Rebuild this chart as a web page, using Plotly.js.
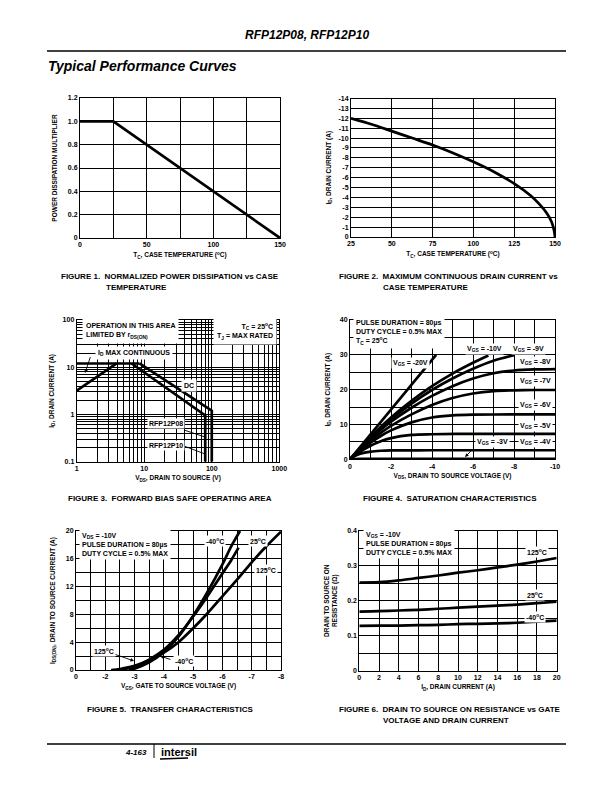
<!DOCTYPE html>
<html><head><meta charset="utf-8">
<script src="https://cdn.plot.ly/plotly-3.0.1.min.js"></script>
<style>html,body{margin:0;padding:0;background:#fff}</style>
</head><body><div id="chart" style="width:612px;height:792px"></div>
<script>
// ---------- DATA ----------
// Figure 1: normalized power dissipation vs case temperature
const fig1_tc = [0, 25, 150];
const fig1_mult = [1.0, 1.0, 0.0];
// Figure 2: max continuous drain current vs case temperature
const fig2_tc = [25, 37.5, 50, 62.5, 75, 87.5, 100, 112.5, 125, 135, 140, 145, 148, 149.5, 150];
const fig2_id = [-12, -11.4, -10.7, -10.0, -9.3, -8.5, -7.6, -6.6, -5.4, -4.2, -3.4, -2.4, -1.5, -0.6, 0];
// Figure 3: forward bias safe operating area
const fig3_rds_vds = [1, 3.9];
const fig3_rds_id = [3.2, 12];
const fig3_idmax_vds = [1, 8.5];
const fig3_idmax_id = [12, 12];
const fig3_p10_vds = [8.5, 100, 100];
const fig3_p10_id = [12, 1.2, 0.1];
const fig3_p08_vds = [6.5, 80, 80];
const fig3_p08_id = [12, 0.95, 0.1];
// Figure 4: saturation characteristics
const fig4_vgs20_vds = [0, -1, -2, -3, -4, -4.2];
const fig4_vgs20_id = [0, 7.1, 14.2, 21.3, 28.5, 30];
const fig4_vgs10_vds = [0, -0.5, -1, -1.5, -2, -3, -4, -5, -6, -6.75];
const fig4_vgs10_id = [0, 3.3, 6.4, 9.3, 12, 16.8, 21, 24.6, 27.7, 29.8];
const fig4_vgs9_vds = [0, -0.5, -1, -1.5, -2, -3, -4, -5, -6, -7, -8];
const fig4_vgs9_id = [0, 3.2, 6.2, 9, 11.5, 16, 19.9, 23.2, 26, 28.3, 29.9];
const fig4_vgs8_vds = [0, -0.5, -1, -1.5, -2, -3, -4, -5, -6, -7, -8, -9, -10];
const fig4_vgs8_id = [0, 3.1, 5.9, 8.5, 10.8, 14.8, 18.2, 21, 23.2, 24.7, 25.5, 25.8, 25.9];
const fig4_vgs7_vds = [0, -0.5, -1, -1.5, -2, -3, -4, -5, -6, -7, -8, -9, -10];
const fig4_vgs7_id = [0, 2.9, 5.4, 7.6, 9.6, 12.9, 15.6, 17.6, 18.9, 19.6, 19.8, 19.9, 19.9];
const fig4_vgs6_vds = [0, -0.5, -1, -1.5, -2, -3, -4, -5, -6, -8, -10];
const fig4_vgs6_id = [0, 2.6, 4.8, 6.7, 8.3, 10.6, 12, 12.6, 12.8, 12.9, 12.9];
const fig4_vgs5_vds = [0, -0.5, -1, -1.5, -2, -3, -4, -6, -10];
const fig4_vgs5_id = [0, 2.2, 3.9, 5.2, 6.1, 7, 7.2, 7.3, 7.3];
const fig4_vgs4_vds = [0, -0.25, -0.5, -1, -1.5, -2, -4, -10];
const fig4_vgs4_id = [0, 1, 1.6, 2.2, 2.45, 2.55, 2.6, 2.6];
const fig4_vgs3_vds = [0, -0.5, -10];
const fig4_vgs3_id = [0, 0.1, 0.15];
// Figure 5: transfer characteristics
const fig5_m40_vgs = [-2.8, -3, -3.5, -4, -4.5, -5, -5.5, -6, -6.3, -6.6];
const fig5_m40_id = [0, 0.2, 1.1, 2.6, 4.8, 7.8, 11.3, 15.2, 17.8, 20];
const fig5_25_vgs = [-2.5, -3, -3.5, -4, -4.5, -5, -5.5, -6, -6.3, -6.55];
const fig5_25_id = [0, 0.5, 1.5, 2.9, 5.0, 7.7, 10.7, 13.9, 15.8, 17.6];
const fig5_125_vgs = [-2.2, -2.5, -3, -3.5, -4, -4.5, -5, -5.5, -6, -6.5, -7, -7.5, -8];
const fig5_125_id = [0, 0.15, 0.6, 1.4, 2.5, 4.0, 6.0, 8.2, 10.6, 13.0, 15.5, 17.8, 19.9];
// Figure 6: on resistance vs drain current
const fig6_id = [0, 2, 4, 6, 8, 10, 12, 14, 16, 18, 20];
const fig6_r125 = [0.252, 0.253, 0.258, 0.265, 0.272, 0.280, 0.287, 0.295, 0.303, 0.312, 0.322];
const fig6_r25 = [0.169, 0.170, 0.172, 0.174, 0.177, 0.180, 0.183, 0.186, 0.189, 0.193, 0.197];
const fig6_rm40 = [0.128, 0.129, 0.129, 0.130, 0.131, 0.133, 0.134, 0.135, 0.137, 0.140, 0.143];

// tick labels
const fig1_xticks = [0, 50, 100, 150];
const fig1_yticks = [0, 0.2, 0.4, 0.6, 0.8, 1.0, 1.2];
const fig1_ytext = ['0', '0.2', '0.4', '0.6', '0.8', '1.0', '1.2'];
const fig2_xticks = [25, 50, 75, 100, 125, 150];
const fig2_yticks = [0, -1, -2, -3, -4, -5, -6, -7, -8, -9, -10, -11, -12, -13, -14];
const fig2_ytext = ['0', '-1', '-2', '-3', '-4', '-5', '-6', '-7', '-8', '-9', '-10', '-11', '-12', '-13', '-14'];
const fig3_xticks = [1, 10, 100, 1000];
const fig3_xtext = ['1', '10', '100', '1000'];
const fig3_yticks = [0.1, 1, 10, 100];
const fig3_ytext = ['0.1', '1', '10', '100'];
const fig4_xticks = [0, -2, -4, -6, -8, -10];
const fig4_xtext = ['0', '-2', '-4', '-6', '-8', '-10'];
const fig4_yticks = [0, 10, 20, 30, 40];
const fig5_xticks = [-1, -2, -3, -4, -5, -6, -7, -8];
const fig5_xtext = ['0', '-2', '-3', '-4', '-5', '-6', '-7', '-8'];
const fig5_yticks = [0, 4, 8, 12, 16, 20];
const fig6_xticks = [0, 2, 4, 6, 8, 10, 12, 14, 16, 18, 20];
const fig6_yticks = [0, 0.1, 0.2, 0.3, 0.4];

// ---------- HELPERS ----------
const W = 612, H = 792;
const PX = x => x / W, PY = y => 1 - y / H;
const FONT = "'Liberation Sans Narrow', 'Arial Narrow', 'Liberation Sans', Arial, sans-serif";
const BOLD = (s, c) => ({family: FONT, size: s, color: c || '#000', weight: 'bold'});

function logMinor(d0, d1) {
  const out = [];
  for (let d = d0; d < d1; d++) for (let k = 2; k <= 9; k++) out.push(k * Math.pow(10, d));
  return out;
}

function axis(dom, anchor, extra) {
  return Object.assign({
    domain: dom, anchor: anchor, showline: true, mirror: true, linecolor: '#000', linewidth: 1,
    showgrid: true, gridcolor: '#000', gridwidth: 1, zeroline: false, ticks: '',
    tickfont: BOLD(7), fixedrange: true, layer: 'below traces'
  }, extra);
}
function minorLin(t0, dt) {
  return {tickmode: 'linear', tick0: t0, dtick: dt, showgrid: true, gridcolor: '#000', gridwidth: 1, ticks: ''};
}

function line(x, y, xa, ya, shape) {
  return {x: x, y: y, xaxis: xa, yaxis: ya, mode: 'lines', type: 'scatter',
    line: {color: '#000', width: 2.7, shape: shape || 'linear', smoothing: 0.8}, hoverinfo: 'skip', showlegend: false};
}

function txt(text, x, y, o) {
  o = o || {};
  return {
    text: text, x: PX(x), y: PY(y), xref: 'paper', yref: 'paper', showarrow: false,
    xanchor: o.xanchor || 'center', yanchor: o.yanchor || 'middle', align: o.align || 'left',
    font: o.font || BOLD(o.size || 7), bgcolor: o.bg || 'rgba(0,0,0,0)', borderpad: o.pad === undefined ? 1 : o.pad
  };
}
function arrow(x0, y0, x1, y1, head) {
  // tail (x0,y0) -> tip (x1,y1), page px
  return {text: ' ', x: PX(x1), y: PY(y1), xref: 'paper', yref: 'paper', showarrow: true,
    ax: x0 - x1, ay: y0 - y1, arrowhead: head ? 2 : 0, arrowsize: 0.8, arrowwidth: 0.9, arrowcolor: '#000',
    standoff: 0, startstandoff: 0, font: BOLD(1)};
}
function seg(x0, y0, x1, y1, w) {
  return {type: 'line', xref: 'paper', yref: 'paper', x0: PX(x0), y0: PY(y0), x1: PX(x1), y1: PY(y1),
    line: {color: '#000', width: w || 1}};
}

// ---------- TRACES ----------
const traces = [
  line(fig1_tc, fig1_mult, 'x', 'y'),
  line(fig2_tc, fig2_id, 'x2', 'y2', 'spline'),
  line(fig3_rds_vds, fig3_rds_id, 'x3', 'y3'),
  line(fig3_idmax_vds, fig3_idmax_id, 'x3', 'y3'),
  line(fig3_p10_vds, fig3_p10_id, 'x3', 'y3'),
  line(fig3_p08_vds, fig3_p08_id, 'x3', 'y3'),
  line(fig4_vgs20_vds, fig4_vgs20_id, 'x4', 'y4'),
  line(fig4_vgs10_vds, fig4_vgs10_id, 'x4', 'y4', 'spline'),
  line(fig4_vgs9_vds, fig4_vgs9_id, 'x4', 'y4', 'spline'),
  line(fig4_vgs8_vds, fig4_vgs8_id, 'x4', 'y4', 'spline'),
  line(fig4_vgs7_vds, fig4_vgs7_id, 'x4', 'y4', 'spline'),
  line(fig4_vgs6_vds, fig4_vgs6_id, 'x4', 'y4', 'spline'),
  line(fig4_vgs5_vds, fig4_vgs5_id, 'x4', 'y4', 'spline'),
  line(fig4_vgs4_vds, fig4_vgs4_id, 'x4', 'y4', 'spline'),
  line(fig4_vgs3_vds, fig4_vgs3_id, 'x4', 'y4'),
  line(fig5_m40_vgs, fig5_m40_id, 'x5', 'y5', 'spline'),
  line(fig5_25_vgs, fig5_25_id, 'x5', 'y5', 'spline'),
  line(fig5_125_vgs, fig5_125_id, 'x5', 'y5', 'spline'),
  line(fig6_id, fig6_r125, 'x6', 'y6', 'spline'),
  line(fig6_id, fig6_r25, 'x6', 'y6', 'spline'),
  line(fig6_id, fig6_rm40, 'x6', 'y6', 'spline')
];

// ---------- LAYOUT ----------
const TF = BOLD(6.5);
const layout = {
  width: W, height: H, margin: {l: 0, r: 0, t: 0, b: 0},
  paper_bgcolor: '#fff', plot_bgcolor: '#fff', showlegend: false,
  font: BOLD(7),
  // Fig 1
  xaxis: axis([80 / W, 280 / W], 'y', {range: [0, 150], tickmode: 'array', tickvals: fig1_xticks,
    minor: minorLin(0, 25),
    title: {text: 'T<sub>C</sub>, CASE TEMPERATURE (<sup>o</sup>C)', font: TF, standoff: 5}}),
  yaxis: axis([1 - 238 / H, 1 - 98 / H], 'x', {range: [0, 1.2], tickmode: 'array', tickvals: fig1_yticks, ticktext: fig1_ytext,
    title: {text: 'POWER DISSIPATION MULTIPLIER', font: TF, standoff: 9}}),
  // Fig 2
  xaxis2: axis([351 / W, 555 / W], 'y2', {range: [25, 150], tickmode: 'array', tickvals: fig2_xticks,
    title: {text: 'T<sub>C</sub>, CASE TEMPERATURE (<sup>o</sup>C)', font: TF, standoff: 5}}),
  yaxis2: axis([1 - 237 / H, 1 - 98.5 / H], 'x2', {range: [0, -14], tickmode: 'array', tickvals: fig2_yticks, ticktext: fig2_ytext,
    title: {text: 'I<sub>D</sub>, DRAIN CURRENT (A)', font: TF, standoff: 6}}),
  // Fig 3
  xaxis3: axis([76.7 / W, 279.3 / W], 'y3', {type: 'log', range: [0, 3], tickmode: 'array', tickvals: fig3_xticks, ticktext: fig3_xtext,
    minor: {tickmode: 'array', tickvals: logMinor(0, 3), showgrid: true, gridcolor: '#000', gridwidth: 1, ticks: ''},
    title: {text: 'V<sub>DS</sub>, DRAIN TO SOURCE (V)', font: TF, standoff: 4}}),
  yaxis3: axis([1 - 461.7 / H, 1 - 320 / H], 'x3', {type: 'log', range: [-1, 2], tickmode: 'array', tickvals: fig3_yticks, ticktext: fig3_ytext,
    minor: {tickmode: 'array', tickvals: logMinor(-1, 2), showgrid: true, gridcolor: '#000', gridwidth: 1, ticks: ''},
    title: {text: 'I<sub>D</sub>, DRAIN CURRENT (A)', font: TF, standoff: 7}}),
  // Fig 4
  xaxis4: axis([350 / W, 555 / W], 'y4', {range: [0, -10], tickmode: 'array', tickvals: fig4_xticks, ticktext: fig4_xtext,
    minor: minorLin(0, 1),
    title: {text: 'V<sub>DS</sub>, DRAIN TO SOURCE VOLTAGE (V)', font: TF, standoff: 4}}),
  yaxis4: axis([1 - 459.3 / H, 1 - 320 / H], 'x4', {range: [0, 40], tickmode: 'array', tickvals: fig4_yticks,
    minor: minorLin(0, 5),
    title: {text: 'I<sub>D</sub>, DRAIN CURRENT (A)', font: TF, standoff: 8}}),
  // Fig 5
  xaxis5: axis([76 / W, 281 / W], 'y5', {range: [-1, -8], tickmode: 'array', tickvals: fig5_xticks, ticktext: fig5_xtext,
    minor: minorLin(-1, 0.5),
    title: {text: 'V<sub>GS</sub>, GATE TO SOURCE VOLTAGE (V)', font: TF, standoff: 4}}),
  yaxis5: axis([1 - 670 / H, 1 - 531 / H], 'x5', {range: [0, 20], tickmode: 'array', tickvals: fig5_yticks,
    minor: minorLin(0, 2),
    title: {text: 'I<sub>DS(ON)</sub>, DRAIN TO SOURCE CURRENT (A)', font: TF, standoff: 9}}),
  // Fig 6
  xaxis6: axis([359.3 / W, 556.7 / W], 'y6', {range: [0, 20], tickmode: 'array', tickvals: fig6_xticks,
    title: {text: 'I<sub>D</sub>, DRAIN CURRENT (A)', font: TF, standoff: 4}}),
  yaxis6: axis([1 - 670.7 / H, 1 - 530.7 / H], 'x6', {range: [0, 0.4], tickmode: 'array', tickvals: fig6_yticks,
    minor: minorLin(0, 0.05),
    title: {text: 'DRAIN TO SOURCE ON<br>RESISTANCE (Ω)', font: TF, standoff: 8}}),
  shapes: [
    seg(47, 51, 566, 51, 1.3),
    seg(47, 744, 566, 744, 1.3),
    seg(154, 744, 154, 758, 1),
    // leader lines, fig 3
    seg(184, 430, 205, 437, 0.9),
    seg(184, 446, 205, 454, 0.9),
    // intersil logo swoosh
    seg(160, 759, 188, 758, 1.4)
  ],
  annotations: [
    // page header
    txt('RFP12P08, RFP12P10', 307, 35, {font: {family: "'Liberation Sans', Arial, sans-serif", size: 12, color: '#000', style: 'italic', weight: 'bold'}}),
    txt('Typical Performance Curves', 46, 66, {xanchor: 'left', font: {family: "'Liberation Sans', Arial, sans-serif", size: 14, color: '#000', style: 'italic', weight: 'bold'}}),
    // captions
    txt('FIGURE 1.  NORMALIZED POWER DISSIPATION vs CASE', 59, 276, {xanchor: 'left', size: 8}),
    txt('TEMPERATURE', 104, 287, {xanchor: 'left', size: 8}),
    txt('FIGURE 2.  MAXIMUM CONTINUOUS DRAIN CURRENT vs', 337, 276, {xanchor: 'left', size: 8}),
    txt('CASE TEMPERATURE', 381, 287, {xanchor: 'left', size: 8}),
    txt('FIGURE 3.  FORWARD BIAS SAFE OPERATING AREA', 66, 498, {xanchor: 'left', size: 8}),
    txt('FIGURE 4.  SATURATION CHARACTERISTICS', 361, 498, {xanchor: 'left', size: 8}),
    txt('FIGURE 5.  TRANSFER CHARACTERISTICS', 85, 709, {xanchor: 'left', size: 8}),
    txt('FIGURE 6.  DRAIN TO SOURCE ON RESISTANCE vs GATE', 337, 709, {xanchor: 'left', size: 8}),
    txt('VOLTAGE AND DRAIN CURRENT', 381, 720, {xanchor: 'left', size: 8}),
    // footer
    txt('4-163', 149, 752, {xanchor: 'right', font: {family: "'Liberation Sans', Arial, sans-serif", size: 8, color: '#000', style: 'italic'}}),
    txt('intersil', 159, 752, {xanchor: 'left', font: {family: "'Liberation Sans', Arial, sans-serif", size: 11, color: '#000', weight: 'bold'}}),
    // fig 3 labels
    txt('OPERATION IN THIS AREA<br>LIMITED BY r<sub>DS(ON)</sub>', 82, 331, {xanchor: 'left', bg: '#fff', pad: 3}),
    txt('T<sub>C</sub> = 25<sup>o</sup>C<br>T<sub>J</sub> = MAX RATED', 277, 331, {xanchor: 'right', align: 'right', bg: '#fff', pad: 3}),
    txt('I<sub>D</sub> MAX CONTINUOUS', 95, 353, {xanchor: 'left', bg: '#fff', pad: 2}),
    arrow(91, 355, 85, 373, true),
    txt('DC', 189, 385, {bg: '#fff', pad: 2}),
    txt('RFP12P08', 166, 423, {bg: '#fff', pad: 1}),
    txt('RFP12P10', 166, 445, {bg: '#fff', pad: 1}),
    // fig 4 labels
    txt('PULSE DURATION = 80µs<br>DUTY CYCLE = 0.5% MAX<br>T<sub>C</sub> = 25<sup>o</sup>C', 353, 333, {xanchor: 'left', bg: '#fff', pad: 2}),
    txt('V<sub>GS</sub> = -20V', 411, 363, {bg: '#fff', pad: 1}),
    txt('V<sub>GS</sub> = -10V', 484, 349, {bg: '#fff', pad: 1}),
    txt('V<sub>GS</sub> = -9V', 528, 349, {bg: '#fff', pad: 1}),
    txt('V<sub>GS</sub> = -8V', 535, 362, {bg: '#fff', pad: 1}),
    txt('V<sub>GS</sub> = -7V', 535, 381, {bg: '#fff', pad: 1}),
    txt('V<sub>GS</sub> = -6V', 535, 405, {bg: '#fff', pad: 1}),
    txt('V<sub>GS</sub> = -5V', 535, 426, {bg: '#fff', pad: 1}),
    txt('V<sub>GS</sub> = -4V', 535, 442, {bg: '#fff', pad: 1}),
    txt('V<sub>GS</sub> = -3V', 492, 442, {bg: '#fff', pad: 1}),
    arrow(475, 447, 465, 457, true),
    // fig 5 labels
    txt('V<sub>DS</sub> = -10V<br>PULSE DURATION = 80µs<br>DUTY CYCLE = 0.5% MAX', 79, 544, {xanchor: 'left', bg: '#fff', pad: 2}),
    txt('-40<sup>o</sup>C', 215, 541, {bg: '#fff', pad: 1}),
    txt('25<sup>o</sup>C', 258, 541, {bg: '#fff', pad: 1}),
    txt('125<sup>o</sup>C', 266, 570, {bg: '#fff', pad: 1}),
    txt('125<sup>o</sup>C', 104, 651, {bg: '#fff', pad: 1}),
    arrow(114, 654, 134, 661, true),
    txt('-40<sup>o</sup>C', 184, 661, {bg: '#fff', pad: 1}),
    arrow(172, 660, 160, 656, true),
    // fig 6 labels
    txt('V<sub>GS</sub> = -10V<br>PULSE DURATION = 80µs<br>DUTY CYCLE = 0.5% MAX', 363, 543, {xanchor: 'left', bg: '#fff', pad: 2}),
    txt('125<sup>o</sup>C', 537, 552, {bg: '#fff', pad: 1}),
    txt('25<sup>o</sup>C', 535, 595, {bg: '#fff', pad: 1}),
    txt('-40<sup>o</sup>C', 535, 617, {bg: '#fff', pad: 1})
  ]
};

Plotly.newPlot('chart', traces, layout, {staticPlot: true, displayModeBar: false});
</script>
</body></html>
